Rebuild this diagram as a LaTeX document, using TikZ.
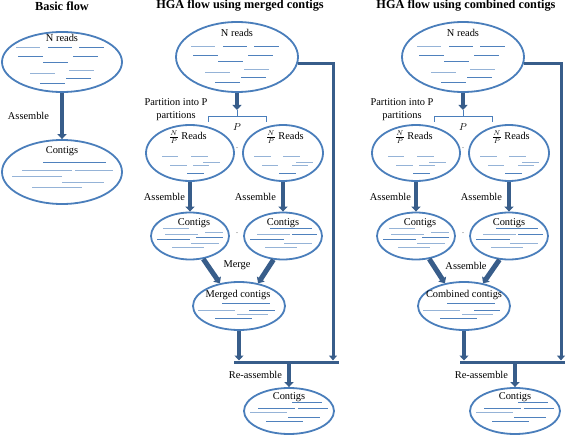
\documentclass[tikz,border=0pt]{standalone}
\usepackage{fontspec}
\setmainfont{Liberation Serif}
\usetikzlibrary{arrows.meta,shapes.geometric}

\definecolor{ellblue}{RGB}{74,126,187}
\definecolor{flowblue}{RGB}{56,93,138}
\definecolor{readl}{RGB}{149,179,215}
\definecolor{readd}{RGB}{79,129,189}

% read strokes inside the ellipses: from/to/y/shade
\def\nreadsp{-46/-22/-11/l,-14/10/-11/d,17/42/-11/d,-44/-19/-2/d,11/36/-2/d,-19/6/4/d,7/32/12/l,-32/-7/15/l,4/29/20/d,-22/3/25/d}
\def\bcontp{-19/44/-10/d,-40/10/-2/l,13/51/-2/l,-50/0/4/l,0/42/10/l,-30/20/15/l}
\def\partp{-28/-12/3/l,1/18/3/l,13/30/9/l,-20/-3/12/l,3/19/12/l,-3/14/20/d}
\def\partq{-29/-12/3/l,0/17/3/l,13/30/9/l,-21/-5/12/l,9/25/12/l,-4/13/20/d}
\def\contp{-27/-1/-8/l,15/33/-4/l,-25/8/-2/l,6/33/1/d,-33/0/3/d,1/29/7/l,-18/14/11/l}
\def\contq{-13/29/-8/d,-26/7/-2/l,9/34/-2/d,-33/1/3/d,1/29/7/l,-18/14/11/l}
\def\mergp{-17/31/-3/d,-41/-4/4/l,10/36/4/d,-2/29/8/l,-24/13/12/d}
\def\finp{3/33/-9/d,-31/6/-3/d,9/39/-3/d,-39/-2/1/l,-1/31/6/d,-23/14/10/d}

\newcommand{\readlines}[2]{%
    \foreach \xa/\xb/\yy/\sh in #2
        \draw[rd,draw=read\sh] ([shift={(\xa,\yy)}]#1) -- ([shift={(\xb,\yy)}]#1);}

\begin{document}
\begin{tikzpicture}[
        x=1pt,y=-1pt,
        ell/.style={ellipse,draw=ellblue,fill=white,line width=1.8pt,inner sep=0pt},
        txt/.style={font=\fontsize{10.4}{13}\selectfont,inner sep=1pt},
        ttl/.style={font=\bfseries\fontsize{12.3}{14}\selectfont,inner sep=0pt},
        flow/.style={draw=flowblue,line width=4pt,-{Triangle[width=9pt,length=5pt]}},
        back/.style={draw=flowblue,line width=3pt,-{Triangle[width=8pt,length=5pt]}},
        joint/.style={draw=flowblue,line width=3pt},
        brc/.style={draw=ellblue,line width=0.8pt},
        dots/.style={font=\tiny,inner sep=0pt},
        rd/.style={line width=0.9pt},
        ]
    \useasboundingbox (0,0) rectangle (566,436);

    % basic flow
    \node[ttl] (tb) at (62,6) {Basic flow};
    \node[ell,minimum width=120pt,minimum height=60pt] (bR) at (62,62) {};
    \node[txt] (bRt) at (62,38) {N reads};
    \coordinate (bRc) at ([yshift=4pt]bR.center);
    \readlines{bRc}{\nreadsp}
    \node[ell,minimum width=120pt,minimum height=64pt] (bC) at (62,172) {};
    \node[txt] (bCt) at (62,151) {Contigs};
    \readlines{bC.center}{\bcontp}
    \draw[flow] (bR) -- (bC) node[txt,midway,left=10pt] {Assemble};

    % HGA flow using merged contigs
    \node[ttl] (tm) at (240,6) {HGA flow using merged contigs};
    \node[ell,minimum width=122pt,minimum height=70pt] (mR) at (237,57) {};
    \node[txt] (mRt) at (237,33) {N reads};
    \readlines{mR.center}{\nreadsp}
    \coordinate (mB) at (237,110);
    \draw[flow] (mR) -- (mB);
    \node[txt,align=center] (mPt) at (176,110) {Partition into P\\partitions};
    \draw[brc] (mB) -- ++(0,6) ++(-29,6) -- ++(0,-6) -- ++(58,0) -- ++(0,6);
    \node[txt] (mPl) at (237,127) {$P$};
    \node[ell,minimum width=88pt,minimum height=56pt] (mP1) at (190,153) {};
    \node[txt] (mP1t) at (188,137) {$\frac{N}{P}$ Reads};
    \readlines{mP1.center}{\partp}
    \node[ell,minimum width=80pt,minimum height=56pt] (mP2) at (283,153) {};
    \node[txt] (mP2t) at (285,137) {$\frac{N}{P}$ Reads};
    \readlines{mP2.center}{\partq}
    \node[dots] (md1) at (237,148) {..};
    \node[ell,minimum width=78pt,minimum height=47pt] (mC1) at (190,236) {};
    \node[txt] (mC1t) at (194,223) {Contigs};
    \readlines{mC1.center}{\contp}
    \node[ell,minimum width=78pt,minimum height=47pt] (mC2) at (283,236) {};
    \node[txt] (mC2t) at (283,223) {Contigs};
    \readlines{mC2.center}{\contq}
    \node[dots] (md2) at (237,233) {..};
    \draw[flow] (mP1) -- (mC1) node[txt,midway,left=2pt] {Assemble};
    \draw[flow] (mP2) -- (mC2) node[txt,midway,left=4pt] {Assemble};
    \node[ell,minimum width=92pt,minimum height=48pt] (mM) at (239,306) {};
    \node[txt] (mMt) at (238,295) {Merged contigs};
    \readlines{mM.center}{\mergp}
    \draw[flow,line width=5pt] (mC1.-60) -- (mM.130);
    \draw[flow,line width=5pt] (mC2.-112) -- (mM.50);
    \node[txt] (mMl) at (237,265) {Merge};
    \coordinate (mJl) at (234,362);
    \coordinate (mJr) at (339,362);
    \coordinate (mJ) at (289,362);
    \coordinate (mK) at (333,362);
    \draw[joint] (mJl) -- (mJr);
    \draw[flow,shorten >=1.5pt] (mM) -- (mM |- mJ);
    \draw[back,shorten >=1.5pt] (mR.-6) -| (mK);
    \node[ell,minimum width=90pt,minimum height=46pt] (mF) at (289,411) {};
    \node[txt] (mFt) at (289,397) {Contigs};
    \readlines{mF.center}{\finp}
    \draw[flow] (mJ) -- (mF) node[txt,midway,left=4pt] {Re-assemble};

    % HGA flow using combined contigs
    \node[ttl] (tc) at (466,6) {HGA flow using combined contigs};
    \node[ell,minimum width=122pt,minimum height=70pt] (cR) at (463,57) {};
    \node[txt] (cRt) at (463,33) {N reads};
    \readlines{cR.center}{\nreadsp}
    \coordinate (cB) at (463,110);
    \draw[flow] (cR) -- (cB);
    \node[txt,align=center] (cPt) at (402,110) {Partition into P\\partitions};
    \draw[brc] (cB) -- ++(0,6) ++(-29,6) -- ++(0,-6) -- ++(58,0) -- ++(0,6);
    \node[txt] (cPl) at (463,127) {$P$};
    \node[ell,minimum width=88pt,minimum height=56pt] (cP1) at (416,153) {};
    \node[txt] (cP1t) at (414,137) {$\frac{N}{P}$ Reads};
    \readlines{cP1.center}{\partp}
    \node[ell,minimum width=80pt,minimum height=56pt] (cP2) at (509,153) {};
    \node[txt] (cP2t) at (511,137) {$\frac{N}{P}$ Reads};
    \readlines{cP2.center}{\partq}
    \node[dots] (cd1) at (463,148) {..};
    \node[ell,minimum width=78pt,minimum height=47pt] (cC1) at (416,236) {};
    \node[txt] (cC1t) at (420,223) {Contigs};
    \readlines{cC1.center}{\contp}
    \node[ell,minimum width=78pt,minimum height=47pt] (cC2) at (509,236) {};
    \node[txt] (cC2t) at (509,223) {Contigs};
    \readlines{cC2.center}{\contq}
    \node[dots] (cd2) at (463,233) {..};
    \draw[flow] (cP1) -- (cC1) node[txt,midway,left=2pt] {Assemble};
    \draw[flow] (cP2) -- (cC2) node[txt,midway,left=4pt] {Assemble};
    \node[ell,minimum width=92pt,minimum height=48pt] (cM) at (464,306) {};
    \node[txt] (cMt) at (464,295) {Combined contigs};
    \readlines{cM.center}{\mergp}
    \draw[flow,line width=5pt] (cC1.-60) -- (cM.130);
    \draw[flow,line width=5pt] (cC2.-112) -- (cM.50);
    \node[txt] (cMl) at (466,266) {Assemble};
    \coordinate (cJl) at (460,362);
    \coordinate (cJr) at (565,362);
    \coordinate (cJ) at (515,362);
    \coordinate (cK) at (561,362);
    \draw[joint] (cJl) -- (cJr);
    \draw[flow,shorten >=1.5pt] (cM) -- (cM |- cJ);
    \draw[back,shorten >=1.5pt] (cR.-6) -| (cK);
    \node[ell,minimum width=90pt,minimum height=46pt] (cF) at (515,411) {};
    \node[txt] (cFt) at (515,397) {Contigs};
    \readlines{cF.center}{\finp}
    \draw[flow] (cJ) -- (cF) node[txt,midway,left=4pt] {Re-assemble};
\end{tikzpicture}
\end{document}
